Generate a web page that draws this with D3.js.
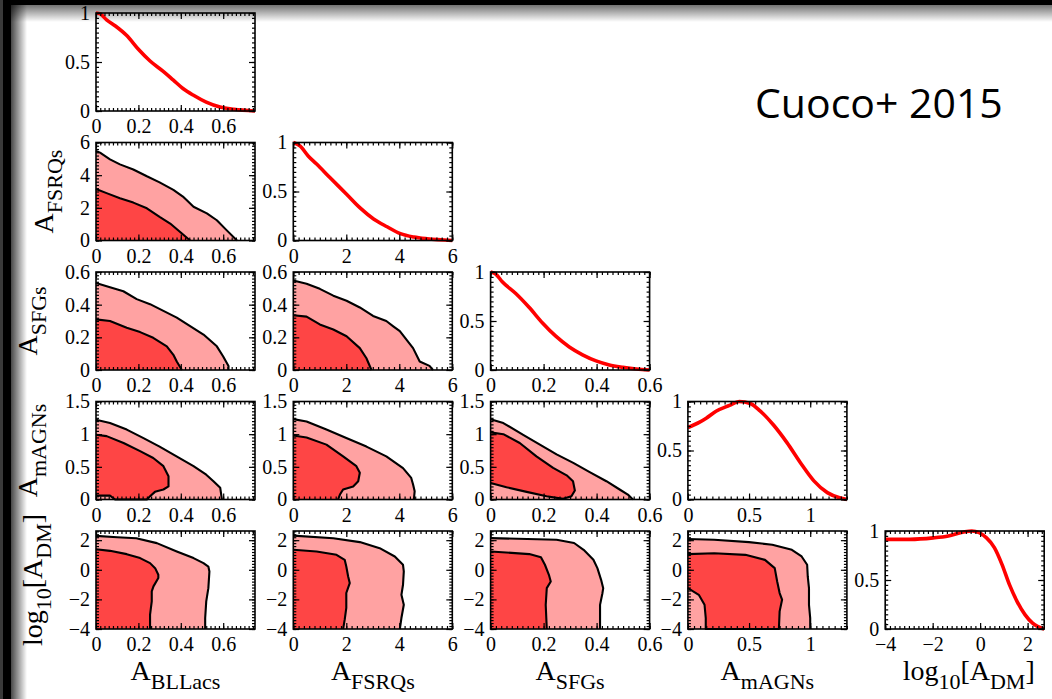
<!DOCTYPE html>
<html>
<head>
<meta charset="utf-8">
<script src="https://d3js.org/d3.v7.min.js"></script>
<style>
  body { margin: 0; background: #fff; }
  svg { display: block; }
  .tk text { font-family: "Liberation Serif", "Times New Roman", serif !important; font-size: 20px; fill: #000; }
</style>
</head>
<body>
<svg width="1052" height="699"></svg>
<script>
// parameter order: BLLacs, FSRQs, SFGs, mAGNs, log10[A_DM]
const xDomains = [[0, 0.75], [0, 6], [0, 0.6], [0, 1.3], [-4, 2.7]];
const yDomains = [[0, 1], [0, 6], [0, 0.6], [0, 1.5], [-4, 2.62]];
const diagDomain = [0, 1];
const xTicks = [[0, 0.2, 0.4, 0.6], [0, 2, 4, 6], [0, 0.2, 0.4, 0.6], [0, 0.5, 1], [-4, -2, 0, 2]];
const yTicks = [[0, 0.5, 1], [0, 2, 4, 6], [0, 0.2, 0.4, 0.6], [0, 0.5, 1, 1.5], [-4, -2, 0, 2]];
const diagTicks = [0, 0.5, 1];
const xMinor = [0.02, 0.2, 0.02, 0.05, 0.2];
const yMinor = [0.05, 0.2, 0.02, 0.05, 0.2];
const diagMinor = 0.05;

// label pieces: [text, isSubscript]
const labels = [
  [["A", 0], ["BLLacs", 1]],
  [["A", 0], ["FSRQs", 1]],
  [["A", 0], ["SFGs", 1]],
  [["A", 0], ["mAGNs", 1]],
  [["log", 0], ["10", 1], ["[A", 0], ["DM", 1], ["]", 0]]
];
const title = "Cuoco+ 2015";

// 1D marginals (normalised to peak)
const margBLLacs = [[0, 1], [0.02, 0.99], [0.05, 0.93], [0.09, 0.87], [0.145, 0.77], [0.2, 0.63], [0.255, 0.51], [0.32, 0.4], [0.365, 0.315], [0.41, 0.23], [0.46, 0.16], [0.52, 0.09], [0.585, 0.04], [0.65, 0.017], [0.75, 0]];
const margFSRQs = [[0, 1], [0.25, 0.965], [0.57, 0.86], [0.88, 0.78], [1.39, 0.64], [2.02, 0.47], [2.53, 0.33], [3.03, 0.22], [3.54, 0.14], [4.04, 0.07], [4.55, 0.035], [5.05, 0.017], [6, 0]];
const margSFGs = [[0, 1], [0.019, 0.98], [0.044, 0.9], [0.095, 0.78], [0.145, 0.64], [0.196, 0.48], [0.246, 0.345], [0.297, 0.235], [0.347, 0.155], [0.398, 0.093], [0.448, 0.052], [0.499, 0.028], [0.55, 0.01], [0.6, 0]];
const margmAGNs = [[0, 0.735], [0.096, 0.79], [0.15, 0.83], [0.23, 0.9], [0.34, 0.96], [0.42, 1], [0.51, 0.98], [0.59, 0.905], [0.7, 0.76], [0.81, 0.58], [0.92, 0.375], [1.03, 0.19], [1.14, 0.07], [1.24, 0.017], [1.3, 0]];
const margDM = [[-4, 0.915], [-2.95, 0.915], [-1.98, 0.93], [-1.34, 0.95], [-0.69, 0.99], [-0.35, 1], [0.27, 0.93], [0.6, 0.83], [0.92, 0.66], [1.24, 0.45], [1.56, 0.28], [1.89, 0.147], [2.21, 0.06], [2.7, 0]];
const marginals = [margBLLacs, margFSRQs, margSFGs, margmAGNs, margDM];

// 2D credible contours, 95% and 68%
const c95_FSRQs_BLLacs = [[0, 5.48], [0.019, 5.38], [0.066, 4.97], [0.113, 4.66], [0.176, 4.35], [0.24, 3.93], [0.3, 3.56], [0.365, 3.1], [0.41, 2.69], [0.46, 2.07], [0.523, 1.66], [0.57, 1.24], [0.617, 0.62], [0.665, 0]];
const c68_FSRQs_BLLacs = [[0, 3.15], [0.05, 2.9], [0.113, 2.59], [0.176, 2.32], [0.24, 1.97], [0.3, 1.45], [0.35, 1.04], [0.397, 0.52], [0.444, 0]];
const c95_SFGs_BLLacs = [[0, 0.532], [0.066, 0.507], [0.129, 0.482], [0.192, 0.434], [0.255, 0.403], [0.318, 0.362], [0.381, 0.321], [0.444, 0.269], [0.507, 0.217], [0.57, 0.145], [0.6, 0.083], [0.625, 0.025], [0.625, 0]];
const c68_SFGs_BLLacs = [[0, 0.31], [0.066, 0.3], [0.145, 0.259], [0.208, 0.232], [0.27, 0.197], [0.334, 0.145], [0.365, 0.093], [0.381, 0.052], [0.405, 0]];
const c95_SFGs_FSRQs = [[0, 0.548], [0.5, 0.528], [1, 0.497], [1.51, 0.455], [2.01, 0.424], [2.51, 0.383], [3.01, 0.331], [3.51, 0.3], [3.76, 0.269], [4.02, 0.238], [4.27, 0.186], [4.52, 0.134], [4.77, 0.052], [5.14, 0.025], [5.27, 0]];
const c68_SFGs_FSRQs = [[0, 0.335], [0.5, 0.327], [1, 0.279], [1.51, 0.248], [2.01, 0.207], [2.51, 0.134], [2.76, 0.072], [2.95, 0]];
const c95_mAGNs_BLLacs = [[0, 1.22], [0.066, 1.17], [0.145, 1.07], [0.224, 0.94], [0.3, 0.81], [0.38, 0.66], [0.46, 0.51], [0.52, 0.38], [0.554, 0.28], [0.586, 0.178], [0.594, 0]];
const c68_mAGNs_BLLacs = [[0, 0.99], [0.05, 0.97], [0.13, 0.865], [0.208, 0.74], [0.27, 0.636], [0.318, 0.51], [0.342, 0.356], [0.342, 0.2], [0.318, 0.153], [0.278, 0.117], [0.255, 0.05], [0.24, 0], [0.09, 0], [0.066, 0.06], [0, 0.06]];
const c95_mAGNs_FSRQs = [[0, 1.23], [0.5, 1.195], [1.25, 1.07], [2, 0.94], [2.76, 0.81], [3.51, 0.66], [4.14, 0.48], [4.45, 0.33], [4.52, 0.23], [4.58, 0.127], [4.55, 0]];
const c68_mAGNs_FSRQs = [[0, 0.98], [0.5, 0.95], [1.25, 0.84], [1.88, 0.66], [2.38, 0.51], [2.51, 0.41], [2.45, 0.28], [2.26, 0.2], [1.88, 0.153], [1.76, 0.076], [1.69, 0]];
const c95_mAGNs_SFGs = [[0, 1.23], [0.048, 1.17], [0.123, 0.99], [0.186, 0.84], [0.249, 0.69], [0.312, 0.56], [0.374, 0.42], [0.437, 0.28], [0.487, 0.153], [0.518, 0.076], [0.537, 0]];
const c68_mAGNs_SFGs = [[0, 1.027], [0.048, 1], [0.11, 0.865], [0.173, 0.66], [0.236, 0.483], [0.287, 0.37], [0.311, 0.28], [0.318, 0.137], [0.305, 0.05], [0.274, 0.01], [0.211, 0.051], [0.136, 0.117], [0.06, 0.188], [0, 0.254]];
const c95_DM_BLLacs = [[0, 2.29], [0.1, 2.2], [0.19, 2.13], [0.287, 1.8], [0.381, 1.24], [0.46, 0.79], [0.507, 0.45], [0.53, 0.22], [0.535, -0.11], [0.53, -1.24], [0.52, -2.13], [0.515, -3.26], [0.515, -4]];
const c68_DM_BLLacs = [[0, 1.39], [0.066, 1.28], [0.145, 1.056], [0.208, 0.79], [0.255, 0.45], [0.279, 0.11], [0.294, -0.34], [0.294, -0.56], [0.271, -1.12], [0.263, -1.46], [0.263, -2.13], [0.255, -3.03], [0.255, -4]];
const c95_DM_FSRQs = [[0, 2.31], [1.51, 2.13], [2.51, 1.87], [3.26, 1.46], [3.83, 0.9], [4.14, 0.34], [4.17, -0.11], [4.14, -1.01], [4.08, -1.69], [4.17, -2.36], [4.08, -3.26], [4.02, -4]];
const c68_DM_FSRQs = [[0, 1.35], [0.88, 1.24], [1.63, 1.01], [1.94, 0.67], [2, 0.22], [2.07, -0.45], [2.13, -0.9], [2, -1.57], [2, -2.58], [1.94, -3.37], [1.88, -4]];
const c95_DM_SFGs = [[0, 2.14], [0.249, 2.03], [0.315, 1.81], [0.351, 1.35], [0.388, 0.68], [0.403, 0.11], [0.417, -0.68], [0.425, -1.24], [0.422, -1.58], [0.413, -2.37], [0.413, -4]];
const c68_DM_SFGs = [[0, 1.24], [0.146, 1.06], [0.19, 0.84], [0.205, 0.34], [0.22, -0.34], [0.227, -0.79], [0.212, -1.24], [0.208, -2.37], [0.212, -4]];
const c95_DM_mAGNs = [[0, 2.08], [0.215, 2.03], [0.5, 1.87], [0.69, 1.69], [0.85, 1.35], [0.93, 0.9], [0.975, 0.34], [0.98, -0.45], [0.99, -1.24], [0.99, -2.37], [1, -3.27], [1, -4]];
const c68_DM_mAGNs = [[0, 1.06], [0.215, 1.12], [0.47, 1.01], [0.63, 0.67], [0.71, 0.11], [0.73, -0.79], [0.75, -1.57], [0.77, -2.02], [0.75, -2.81], [0.744, -4], [0.146, -4], [0.146, -3.26], [0.136, -2.36], [0.089, -1.69], [0, -1.24]];

const pairs = [
  [1, 0, c95_FSRQs_BLLacs, c68_FSRQs_BLLacs],
  [2, 0, c95_SFGs_BLLacs, c68_SFGs_BLLacs],
  [2, 1, c95_SFGs_FSRQs, c68_SFGs_FSRQs],
  [3, 0, c95_mAGNs_BLLacs, c68_mAGNs_BLLacs],
  [3, 1, c95_mAGNs_FSRQs, c68_mAGNs_FSRQs],
  [3, 2, c95_mAGNs_SFGs, c68_mAGNs_SFGs],
  [4, 0, c95_DM_BLLacs, c68_DM_BLLacs],
  [4, 1, c95_DM_FSRQs, c68_DM_FSRQs],
  [4, 2, c95_DM_SFGs, c68_DM_SFGs],
  [4, 3, c95_DM_mAGNs, c68_DM_mAGNs]
];

const svg = d3.select("svg");
const serif = "'Liberation Serif', 'Times New Roman', serif";
const panelLeft = 96, panelTop = 13, panelW = 159, panelH = 98;
const stepX = 197.3, stepY = 129.5;
const col95 = "#ffa2a2", col68 = "#fe4545";

// slide frame: black bars and soft shadow on left/top
const defs = svg.append("defs");
const gl = defs.append("linearGradient").attr("id", "shadeL").attr("x1", 0).attr("x2", 1).attr("y1", 0).attr("y2", 0);
gl.append("stop").attr("offset", 0).attr("stop-color", "#000").attr("stop-opacity", 0.72);
gl.append("stop").attr("offset", 1).attr("stop-color", "#000").attr("stop-opacity", 0);
const gt = defs.append("linearGradient").attr("id", "shadeT").attr("x1", 0).attr("x2", 0).attr("y1", 0).attr("y2", 1);
gt.append("stop").attr("offset", 0).attr("stop-color", "#000").attr("stop-opacity", 0.55);
gt.append("stop").attr("offset", 1).attr("stop-color", "#000").attr("stop-opacity", 0);

svg.append("rect").attr("x", 11).attr("y", 5).attr("width", 1041).attr("height", 17).attr("fill", "url(#shadeT)");
svg.append("rect").attr("x", 11).attr("y", 5).attr("width", 16).attr("height", 694).attr("fill", "url(#shadeL)");
svg.append("rect").attr("x", 0).attr("y", 0).attr("width", 1052).attr("height", 5).attr("fill", "#000");
svg.append("rect").attr("x", 0).attr("y", 0).attr("width", 11).attr("height", 699).attr("fill", "#000");
svg.append("rect").attr("x", 0).attr("y", 0).attr("width", 3).attr("height", 699).attr("fill", "#3a3a3a");

function fmt(d) {
  return String(d).replace("-", "\u2212");
}

function minorValues(dom, step) {
  const n = Math.round((dom[1] - dom[0]) / step);
  const out = [];
  for (let i = 0; i <= n; i++) {
    const v = dom[0] + i * step;
    if (v <= dom[1] + 1e-9) out.push(v);
  }
  return out;
}

function styleAxis(g) {
  g.select(".domain").remove();
  g.attr("class", "tk").attr("font-family", null).attr("font-size", null);
  g.selectAll("line").attr("stroke-width", 1.2);
}

function drawFrame(g, x, y, xt, yt, xm, ym) {
  // minor ticks on all four sides
  g.append("g").attr("transform", `translate(0,${panelH})`)
    .call(d3.axisBottom(x).tickValues(xm).tickSize(-3).tickFormat("")).call(styleAxis);
  g.append("g").call(d3.axisTop(x).tickValues(xm).tickSize(-3).tickFormat("")).call(styleAxis);
  g.append("g").call(d3.axisLeft(y).tickValues(ym).tickSize(-3).tickFormat("")).call(styleAxis);
  g.append("g").attr("transform", `translate(${panelW},0)`)
    .call(d3.axisRight(y).tickValues(ym).tickSize(-3).tickFormat("")).call(styleAxis);
  // major ticks with labels on bottom/left
  g.append("g").attr("transform", `translate(0,${panelH})`)
    .call(d3.axisBottom(x).tickValues(xt).tickSize(-6).tickPadding(8).tickFormat(fmt)).call(styleAxis);
  g.append("g").call(d3.axisTop(x).tickValues(xt).tickSize(-6).tickFormat("")).call(styleAxis);
  g.append("g")
    .call(d3.axisLeft(y).tickValues(yt).tickSize(-6).tickPadding(6).tickFormat(fmt)).call(styleAxis);
  g.append("g").attr("transform", `translate(${panelW},0)`)
    .call(d3.axisRight(y).tickValues(yt).tickSize(-6).tickFormat("")).call(styleAxis);
  g.append("rect").attr("width", panelW).attr("height", panelH)
    .attr("fill", "none").attr("stroke", "#000").attr("stroke-width", 1.6);
}

function panelG(row, col) {
  return svg.append("g")
    .attr("transform", `translate(${panelLeft + col * stepX},${panelTop + row * stepY})`);
}

// diagonal: 1D marginals
marginals.forEach((m, i) => {
  const g = panelG(i, i);
  const x = d3.scaleLinear().domain(xDomains[i]).range([0, panelW]);
  const y = d3.scaleLinear().domain(diagDomain).range([panelH, 0]);
  g.append("path").datum(m)
    .attr("d", d3.line().x(d => x(d[0])).y(d => y(d[1])).curve(d3.curveMonotoneX))
    .attr("fill", "none").attr("stroke", "#ff0000").attr("stroke-width", 3.6)
    .attr("stroke-linejoin", "round");
  drawFrame(g, x, y, xTicks[i], diagTicks, minorValues(xDomains[i], xMinor[i]), minorValues(diagDomain, diagMinor));
});

// off-diagonal: 2D contours
pairs.forEach(([row, col, c95, c68]) => {
  const g = panelG(row, col);
  const xd = xDomains[col], yd = yDomains[row];
  const x = d3.scaleLinear().domain(xd).range([0, panelW]);
  const y = d3.scaleLinear().domain(yd).range([panelH, 0]);
  const line = d3.line().x(d => x(d[0])).y(d => y(d[1]));
  [[c95, col95], [c68, col68]].forEach(([c, fill]) => {
    const last = c[c.length - 1];
    const poly = last[1] === yd[0] ? c.concat([[xd[0], yd[0]]]) : c.slice();
    g.append("path").datum(poly).attr("d", d => line(d) + "Z").attr("fill", fill).attr("stroke", "none");
    g.append("path").datum(c).attr("d", line)
      .attr("fill", "none").attr("stroke", "#000").attr("stroke-width", 2.1).attr("stroke-linejoin", "round");
  });
  drawFrame(g, x, y, xTicks[col], yTicks[row], minorValues(xd, xMinor[col]), minorValues(yd, yMinor[row]));
});

function addLabel(t, parts) {
  t.attr("font-family", serif).attr("fill", "#000").attr("text-anchor", "middle");
  let shifted = false;
  parts.forEach(([s, sub]) => {
    const ts = t.append("tspan").text(s).attr("font-size", sub ? 22 : 28);
    if (sub && !shifted) { ts.attr("dy", 9); shifted = true; }
    if (!sub && shifted) { ts.attr("dy", -9); shifted = false; }
  });
}

// column labels under bottom row
labels.forEach((p, i) => {
  const t = svg.append("text")
    .attr("x", panelLeft + i * stepX + panelW / 2 + (i === 4 ? 4 : 0))
    .attr("y", 680);
  addLabel(t, p);
});

// row labels, rotated, left of first column
const rowLabelX = [0, 53, 37, 37, 42];
labels.forEach((p, i) => {
  if (i === 0) return;
  const cy = panelTop + i * stepY + panelH / 2;
  const t = svg.append("text")
    .attr("transform", `translate(${rowLabelX[i]},${cy}) rotate(-90)`);
  addLabel(t, p);
});

svg.append("text")
  .attr("x", 755).attr("y", 118)
  .attr("font-family", "'Open Sans', sans-serif").attr("font-size", 41)
  .attr("fill", "#000")
  .text(title);
</script>
</body>
</html>
